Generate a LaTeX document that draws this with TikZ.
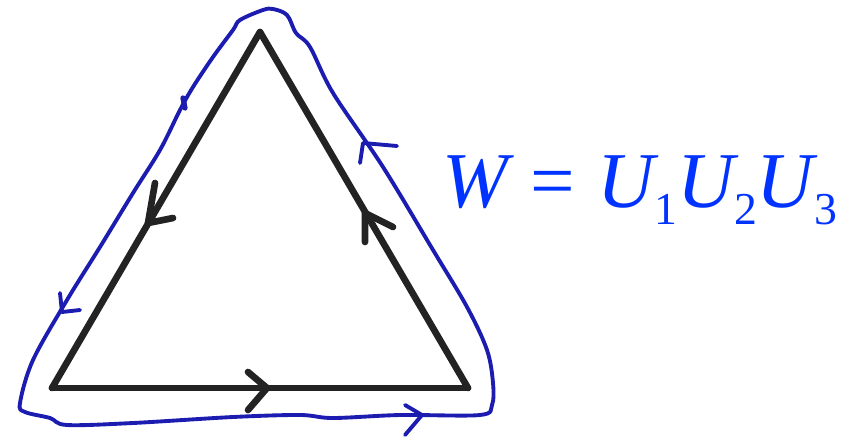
\documentclass[tikz,border=0pt]{standalone}
\usepackage{fontspec}
\setmainfont{Liberation Serif}
\usetikzlibrary{positioning}
\definecolor{LoopBlue}{HTML}{1C1CB0}
\definecolor{EqBlue}{HTML}{0033FF}
\definecolor{EdgeGray}{HTML}{232323}
\newcommand{\lowidx}[1]{\raisebox{-10pt}{\fontsize{26}{26}\selectfont\upshape #1}}

\begin{document}
\begin{tikzpicture}[x=0.02cm,y=-0.02cm,
      edge/.style={EdgeGray,line width=3.8pt,line cap=round,line join=round},
      chev/.style={EdgeGray,line width=3.8pt,line cap=round,line join=round},
      wloop/.style={LoopBlue,line width=2.2pt,line cap=round,line join=round},
      eqn/.style={text=EqBlue,font=\fontsize{45}{45}\selectfont,inner sep=0pt}]
    \useasboundingbox (0,0) rectangle (854,440);
    % triangle
    \coordinate (top) at (260,32);
    \coordinate (bl)  at (52,388);
    \coordinate (br)  at (468,388);
    \draw[edge] (top) -- (bl);
    \draw[edge] (bl) -- (br);
    \draw[edge] (br) -- (top);
    % chevrons on the edges
    \draw[chev] (155,183) -- (148,223) -- (173,218);
    \draw[chev] (248,372) -- (267,388) -- (248,410);
    \draw[chev] (365,242) -- (365,213) -- (393,227);
    % the loop around it
    \draw[wloop] plot[smooth cycle,tension=0.55] coordinates {
      (273,9) (263,10) (240,20) (233,30) (213,57) (193,87) (180,110)
      (160,150) (133,193) (100,247) (67,300) (33,360) (20,403) (25,412)
      (50,418) (67,425) (133,423) (233,417) (300,415) (333,418) (400,415)
      (480,415) (492,405) (493,383) (487,350) (467,307) (433,250)
      (383,167) (333,93) (310,47) (296,33) (287,15)};
    \draw[wloop] (60,293) -- (62,312) -- (80,310);
    \draw[wloop] (405,405) -- (422,415) -- (405,435);
    \draw[wloop] (360,163) -- (363,143) -- (397,146);
    \draw[LoopBlue,line width=3pt,line cap=round] (183,98) -- (185,108);
    % the label
    \node[eqn,anchor=base west] (wilson) at (442,207)
      {\itshape W\upshape\hspace{0.28em}=\hspace{0.28em}\itshape U\lowidx{1}U\lowidx{2}U\lowidx{3}};
  \end{tikzpicture}
\end{document}
